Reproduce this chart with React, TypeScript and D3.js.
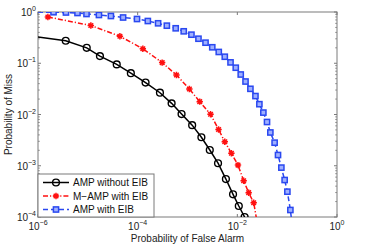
import * as React from "react";
import * as d3 from "d3";

const W = 373;
const H = 247;
const margin = { left: 38, right: 36, top: 12, bottom: 30 };

// AMP without EIB (first point is the line start, no marker)
const ampNoEibPfa = [1e-6, 3.6e-6, 9.5e-6, 1.75e-5, 3.8e-5, 7.3e-5, 1.44e-4, 2.8e-4, 4.8e-4, 7.6e-4, 1.24e-3, 1.9e-3, 2.8e-3, 4.1e-3, 5.9e-3, 8.2e-3, 1.07e-2, 1.4e-2];
const ampNoEibPm = [0.325, 0.275, 0.2, 0.138, 0.095, 0.064, 0.042, 0.0266, 0.0165, 0.0102, 0.0062, 0.0036, 0.00203, 0.00112, 5.5e-4, 2.77e-4, 1.64e-4, 1e-4];

// M-AMP with EIB (last point falls below the axis)
const mampPfa = [1.58e-6, 1.15e-5, 4.4e-5, 1.27e-4, 3.1e-4, 6.0e-4, 1.09e-3, 1.76e-3, 2.9e-3, 4.2e-3, 5.6e-3, 7.6e-3, 1.03e-2, 1.34e-2, 1.69e-2, 2.13e-2, 2.55e-2];
const mampPm = [0.8, 0.545, 0.336, 0.192, 0.103, 0.059, 0.0314, 0.0178, 0.0101, 0.0051, 0.00294, 0.00175, 0.00103, 5.1e-4, 2.98e-4, 1.9e-4, 7e-5];

// AMP with EIB (first point is the line start, last one below the axis)
const ampEibPfa = [1e-6, 2.05e-6, 3.64e-6, 6.2e-6, 9.4e-6, 1.67e-5, 2.9e-5, 5.1e-5, 9.7e-5, 1.6e-4, 2.57e-4, 3.85e-4, 5.8e-4, 8.4e-4, 1.2e-3, 1.66e-3, 2.3e-3, 3.14e-3, 4.24e-3, 5.6e-3, 7.3e-3, 9.3e-3, 1.17e-2, 1.46e-2, 1.83e-2, 2.31e-2, 2.77e-2, 3.33e-2, 3.94e-2, 4.6e-2, 5.6e-2, 6.55e-2, 7.65e-2, 8.9e-2, 0.101, 0.116, 0.126];
const ampEibPm = [0.995, 0.99, 0.978, 0.956, 0.914, 0.874, 0.835, 0.781, 0.73, 0.667, 0.602, 0.541, 0.481, 0.42, 0.361, 0.301, 0.252, 0.205, 0.166, 0.134, 0.104, 0.0818, 0.0603, 0.044, 0.0317, 0.0229, 0.0159, 0.0109, 0.00714, 0.00446, 0.00282, 0.00162, 9.2e-4, 5.27e-4, 3.12e-4, 1.37e-4, 7e-5];

const xTicks = [1e-6, 1e-4, 1e-2, 1];
const yTicks = [1e-4, 1e-3, 1e-2, 1e-1, 1];
const legendLabels = ["AMP without EIB", "M\u2212AMP with EIB", "AMP with EIB"];

const BLUE = "#2a48f0";
const RED = "#ff1010";
const font = "'Liberation Sans', Arial, sans-serif";

type MarkerKind = "circle" | "star" | "square";

const Marker = ({ kind, x, y, color }: { kind: MarkerKind; x: number; y: number; color: string }) => {
  if (kind === "circle") {
    return <circle cx={x} cy={y} r={3.4} fill="none" stroke={color} strokeWidth={1.4} />;
  }
  if (kind === "star") {
    const s = 3.2;
    const d = 2.3;
    return (
      <path
        d={`M${x - s},${y}H${x + s}M${x},${y - s}V${y + s}M${x - d},${y - d}L${x + d},${y + d}M${x - d},${y + d}L${x + d},${y - d}`}
        stroke={color}
        strokeWidth={1.5}
        fill="none"
      />
    );
  }
  return <rect x={x - 2.6} y={y - 2.6} width={5.2} height={5.2} fill="#9fb0ff" stroke={color} strokeWidth={1.5} />;
};

const exp = (v: number) => {
  const e = Math.round(Math.log10(v));
  return e < 0 ? `\u2212${-e}` : `${e}`;
};

export default function App() {
  const x = d3.scaleLog().domain([1e-6, 1]).range([margin.left, W - margin.right]);
  const y = d3.scaleLog().domain([1e-4, 1]).range([H - margin.bottom, margin.top]);
  const [x0, x1] = x.range();
  const [y0, y1] = y.range();

  const line = d3
    .line<[number, number]>()
    .x((d) => x(d[0]))
    .y((d) => y(d[1]));

  const series = [
    { px: ampNoEibPfa, pm: ampNoEibPm, color: "#000", dash: "none", kind: "circle" as MarkerKind, skip: 1 },
    { px: mampPfa, pm: mampPm, color: RED, dash: "5,2,1.2,2", kind: "star" as MarkerKind, skip: 0 },
    { px: ampEibPfa, pm: ampEibPm, color: BLUE, dash: "5,3", kind: "square" as MarkerKind, skip: 1 },
  ];

  const minorY: number[] = [];
  for (let e = -4; e < 0; e++) for (let m = 2; m <= 9; m++) minorY.push(m * Math.pow(10, e));

  const axisColor = "#7a7a7a";
  const lg = { x: x0, y: 174, w: 116, h: y0 - 174 };

  return (
    <svg width={W} height={H} style={{ position: "absolute", left: 0, top: 0, background: "#fff" }} fontFamily={font}>
      <defs>
        <clipPath id="plot">
          <rect x={x0} y={y1} width={x1 - x0} height={y0 - y1} />
        </clipPath>
      </defs>
      <rect x={0} y={0} width={W} height={H} fill="#fff" />

      {/* ticks */}
      {xTicks.map((t) => (
        <g key={`xt${t}`} stroke={axisColor} strokeWidth={1}>
          <line x1={x(t)} x2={x(t)} y1={y0} y2={y0 - 3} />
          <line x1={x(t)} x2={x(t)} y1={y1} y2={y1 + 3} />
        </g>
      ))}
      {yTicks.map((t) => (
        <g key={`yt${t}`} stroke={axisColor} strokeWidth={1}>
          <line x1={x0} x2={x0 + 3} y1={y(t)} y2={y(t)} />
          <line x1={x1} x2={x1 - 3} y1={y(t)} y2={y(t)} />
        </g>
      ))}
      {minorY.map((t) => (
        <g key={`ym${t}`} stroke={axisColor} strokeWidth={0.8}>
          <line x1={x0} x2={x0 + 1.8} y1={y(t)} y2={y(t)} />
          <line x1={x1} x2={x1 - 1.8} y1={y(t)} y2={y(t)} />
        </g>
      ))}
      <rect x={x0} y={y1} width={x1 - x0} height={y0 - y1} fill="none" stroke={axisColor} strokeWidth={1} />

      {/* tick labels */}
      {xTicks.map((t) => (
        <text key={`xl${t}`} x={x(t)} y={230} fontSize={10} textAnchor="middle" fill="#222">
          <tspan>10</tspan>
          <tspan dy={-5} fontSize={7}>{exp(t)}</tspan>
        </text>
      ))}
      {yTicks.map((t) => (
        <text key={`yl${t}`} x={x0 - 2} y={y(t) + 4} fontSize={10} textAnchor="end" fill="#222">
          <tspan>10</tspan>
          <tspan dy={-5} fontSize={7}>{exp(t)}</tspan>
        </text>
      ))}

      {/* axis titles */}
      <text x={(x0 + x1) / 2} y={242} fontSize={10} textAnchor="middle" fill="#222">
        Probability of False Alarm
      </text>
      <text transform={`translate(12,${(y0 + y1) / 2}) rotate(-90)`} fontSize={10} textAnchor="middle" fill="#222">
        Probability of Miss
      </text>

      {/* series */}
      <g clipPath="url(#plot)">
        {series.map((s, i) => {
          const pts = s.px.map((v, j) => [v, s.pm[j]] as [number, number]);
          return (
            <g key={`s${i}`}>
              <path d={line(pts) || ""} fill="none" stroke={s.color} strokeWidth={1.5} strokeDasharray={s.dash} />
              {pts.slice(s.skip).map((p, j) => (
                <Marker key={j} kind={s.kind} x={x(p[0])} y={y(p[1])} color={s.color} />
              ))}
            </g>
          );
        })}
      </g>

      {/* legend */}
      <rect x={lg.x} y={lg.y} width={lg.w} height={lg.h} fill="#fff" stroke={axisColor} strokeWidth={1} />
      {series.map((s, i) => {
        const ly = 182.5 + i * 13.5;
        return (
          <g key={`lg${i}`}>
            <line x1={lg.x + 5} x2={lg.x + 31} y1={ly} y2={ly} stroke={s.color} strokeWidth={1.5} strokeDasharray={s.dash} />
            <Marker kind={s.kind} x={lg.x + 18} y={ly} color={s.color} />
            <text x={lg.x + 35} y={ly + 3.5} fontSize={10} fill="#111">
              {legendLabels[i]}
            </text>
          </g>
        );
      })}
    </svg>
  );
}
